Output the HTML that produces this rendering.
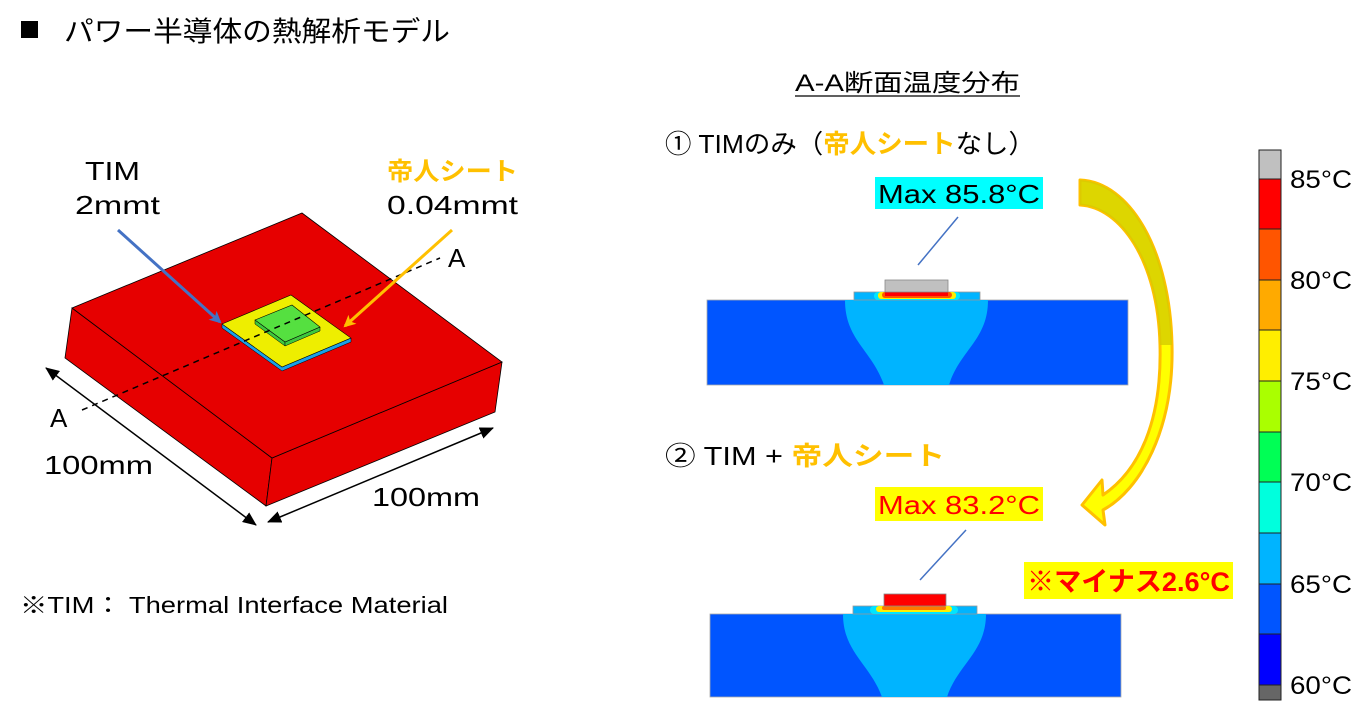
<!DOCTYPE html>
<html><head><meta charset="utf-8"><style>
html,body{margin:0;padding:0;background:#fff;}
svg{display:block;font-family:"Liberation Sans","Noto Sans CJK JP",sans-serif;}
</style></head><body>
<svg width="1368" height="712" viewBox="0 0 1368 712" xmlns="http://www.w3.org/2000/svg">
<defs>
<marker id="ab" markerWidth="12" markerHeight="12" refX="10" refY="6" orient="auto" markerUnits="userSpaceOnUse"><path d="M0,0 L12,6 L0,12 L3,6z" fill="#4472c4"/></marker>
<marker id="ao" markerWidth="12" markerHeight="12" refX="10" refY="6" orient="auto" markerUnits="userSpaceOnUse"><path d="M0,0 L12,6 L0,12 L3,6z" fill="#ffc000"/></marker>
<marker id="ak" markerWidth="14" markerHeight="12" refX="13" refY="6" orient="auto-start-reverse" markerUnits="userSpaceOnUse"><path d="M0,0 L14,6 L0,12z" fill="#000"/></marker>
</defs>
<rect x="21" y="21" width="17" height="17" fill="#000"/>
<text x="64" y="41" font-size="28" textLength="386" lengthAdjust="spacingAndGlyphs">パワー半導体の熱解析モデル</text>

<polygon points="72,308 272,458 266,506 65,358" fill="#e60000" stroke="#000" stroke-width="0.8"/>
<polygon points="272,458 502,362 495,412 266,506" fill="#e60000" stroke="#000" stroke-width="0.8"/>
<polygon points="72,308 302,213 502,362 272,458" fill="#e60000" stroke="#000" stroke-width="0.8"/>
<polygon points="222,324 282,367 351,338 351,342 282,371 222,328" fill="#1aa0e8" stroke="#000" stroke-width="0.5"/>
<polygon points="222,324 291,295 351,338 282,367" fill="#eeee00" stroke="#000" stroke-width="0.6"/>
<polygon points="255,320 285,342 285,346 255,324" fill="#3ec83e" stroke="#000" stroke-width="0.5"/>
<polygon points="285,342 320,327 320,331 285,346" fill="#3ec83e" stroke="#000" stroke-width="0.5"/>
<polygon points="255,320 292,305 320,327 285,342" fill="#55e040" stroke="#000" stroke-width="0.6"/>
<line x1="82" y1="410" x2="440" y2="258" stroke="#000" stroke-width="1.5" stroke-dasharray="6,5"/>
<text x="50" y="427" font-size="26">A</text>
<text x="448" y="267" font-size="26">A</text>
<line x1="118" y1="230" x2="220" y2="322" stroke="#4472c4" stroke-width="3" marker-end="url(#ab)"/>
<line x1="452" y1="230" x2="345" y2="326" stroke="#ffc000" stroke-width="3" marker-end="url(#ao)"/>
<line x1="46" y1="368" x2="256" y2="525" stroke="#000" stroke-width="1.5" marker-start="url(#ak)" marker-end="url(#ak)"/>
<line x1="268" y1="522" x2="493" y2="428" stroke="#000" stroke-width="1.5" marker-start="url(#ak)" marker-end="url(#ak)"/>
<text x="85" y="180" font-size="26" textLength="55" lengthAdjust="spacingAndGlyphs">TIM</text>
<text x="75" y="214" font-size="26" textLength="85" lengthAdjust="spacingAndGlyphs">2mmt</text>
<text x="387" y="180" font-size="25" fill="#ffc000" font-weight="bold" textLength="131" lengthAdjust="spacingAndGlyphs">帝人シート</text>
<text x="387" y="214" font-size="26" textLength="131" lengthAdjust="spacingAndGlyphs">0.04mmt</text>
<text x="44" y="474" font-size="26" textLength="109" lengthAdjust="spacingAndGlyphs">100mm</text>
<text x="372" y="506" font-size="26" textLength="108" lengthAdjust="spacingAndGlyphs">100mm</text>
<text x="20" y="613" font-size="23" textLength="428" lengthAdjust="spacingAndGlyphs">※TIM： Thermal Interface Material</text>

<text x="795" y="91" font-size="24" textLength="225" lengthAdjust="spacingAndGlyphs">A-A断面温度分布</text>
<line x1="795" y1="96" x2="1020" y2="96" stroke="#000" stroke-width="1.2"/>
<text x="665" y="153" font-size="26" textLength="370" lengthAdjust="spacingAndGlyphs">①  TIMのみ（<tspan fill="#ffc000" font-weight="bold">帝人シート</tspan>なし）</text>
<text x="665" y="465" font-size="26" textLength="280" lengthAdjust="spacingAndGlyphs">②  TIM + <tspan fill="#ffc000" font-weight="bold">帝人シート</tspan></text>

<rect x="875" y="177" width="168" height="32" fill="#00ffff"/>
<text x="878" y="203" font-size="26" textLength="162" lengthAdjust="spacingAndGlyphs">Max 85.8°C</text>
<line x1="958" y1="217" x2="918" y2="265" stroke="#4472c4" stroke-width="1.5"/>
<rect x="875" y="487" width="168" height="34" fill="#ffff00"/>
<text x="878" y="514" font-size="26" fill="#ff0000" textLength="162" lengthAdjust="spacingAndGlyphs">Max 83.2°C</text>
<line x1="966" y1="530" x2="920" y2="580" stroke="#4472c4" stroke-width="1.5"/>
<rect x="1024" y="562" width="209" height="37" fill="#ffff00"/>
<text x="1027" y="591" font-size="27" fill="#ff0000" font-weight="bold" textLength="203" lengthAdjust="spacingAndGlyphs">※マイナス2.6°C</text>

<rect x="707" y="300" width="421" height="85" fill="#0055ff" stroke="#aaa" stroke-width="0.8"/>
<path d="M845,300 L988,300 C988,340 960,350 949,385 L884,385 C872,350 845,340 845,300Z" fill="#00b4ff"/>
<rect x="854" y="292" width="126" height="8" fill="#00b4ff" stroke="#999" stroke-width="0.8"/>
<rect x="874" y="292" width="86" height="8" rx="4" fill="#00e5ff"/>
<rect x="878" y="292" width="78" height="7" rx="3" fill="#ffee00"/>
<rect x="882" y="292" width="70" height="6" rx="3" fill="#ff5500"/>
<rect x="885" y="292" width="63" height="4" fill="#ff0000"/>
<rect x="885" y="280" width="63" height="12" fill="#c0c0c0" stroke="#888" stroke-width="0.8"/>

<rect x="710" y="614" width="411" height="83" fill="#0055ff" stroke="#aaa" stroke-width="0.8"/>
<path d="M843,614 L986,614 C986,652 958,664 947,697 L882,697 C870,664 843,652 843,614Z" fill="#00b4ff"/>
<rect x="853" y="606" width="124" height="8" fill="#00b4ff" stroke="#999" stroke-width="0.8"/>
<rect x="870" y="606" width="88" height="8" rx="4" fill="#00e5ff"/>
<rect x="876" y="606" width="76" height="6" rx="3" fill="#ffee00"/>
<rect x="882" y="606" width="64" height="4" rx="2" fill="#ff7700"/>
<rect x="884" y="594" width="62" height="12" fill="#ff0000" stroke="#888" stroke-width="0.8"/>

<path d="M1080,180 C1130,182 1170,250 1172,345 C1174,430 1140,490 1103,510 L1105,525 L1082,505 L1102,480 L1103,495 C1140,470 1162,420 1160,345 C1158,260 1120,207 1080,205 Z" fill="#ffff00" stroke="#ffc000" stroke-width="3" stroke-linejoin="round"/>
<path d="M1080,180 C1130,182 1170,250 1172,345 L1160,345 C1158,260 1120,207 1080,205Z" fill="#d4cc00" opacity="0.8"/>

<g stroke="#222" stroke-width="1">
<rect x="1259" y="150" width="22" height="29" fill="#c0c0c0"/>
<rect x="1259" y="179" width="22" height="50" fill="#ff0000"/>
<rect x="1259" y="229" width="22" height="51" fill="#ff5500"/>
<rect x="1259" y="280" width="22" height="50" fill="#ffaa00"/>
<rect x="1259" y="330" width="22" height="51" fill="#ffee00"/>
<rect x="1259" y="381" width="22" height="51" fill="#aaff00"/>
<rect x="1259" y="432" width="22" height="50" fill="#00ff55"/>
<rect x="1259" y="482" width="22" height="51" fill="#00ffdd"/>
<rect x="1259" y="533" width="22" height="51" fill="#00b4ff"/>
<rect x="1259" y="584" width="22" height="50" fill="#0055ff"/>
<rect x="1259" y="634" width="22" height="51" fill="#0000ff"/>
<rect x="1259" y="685" width="22" height="15" fill="#666"/>
</g>
<g font-size="25">
<text x="1290" y="188" textLength="62" lengthAdjust="spacingAndGlyphs">85°C</text>
<text x="1290" y="289" textLength="62" lengthAdjust="spacingAndGlyphs">80°C</text>
<text x="1290" y="390" textLength="62" lengthAdjust="spacingAndGlyphs">75°C</text>
<text x="1290" y="491" textLength="62" lengthAdjust="spacingAndGlyphs">70°C</text>
<text x="1290" y="593" textLength="62" lengthAdjust="spacingAndGlyphs">65°C</text>
<text x="1290" y="694" textLength="62" lengthAdjust="spacingAndGlyphs">60°C</text>
</g>
</svg>
</body></html>
